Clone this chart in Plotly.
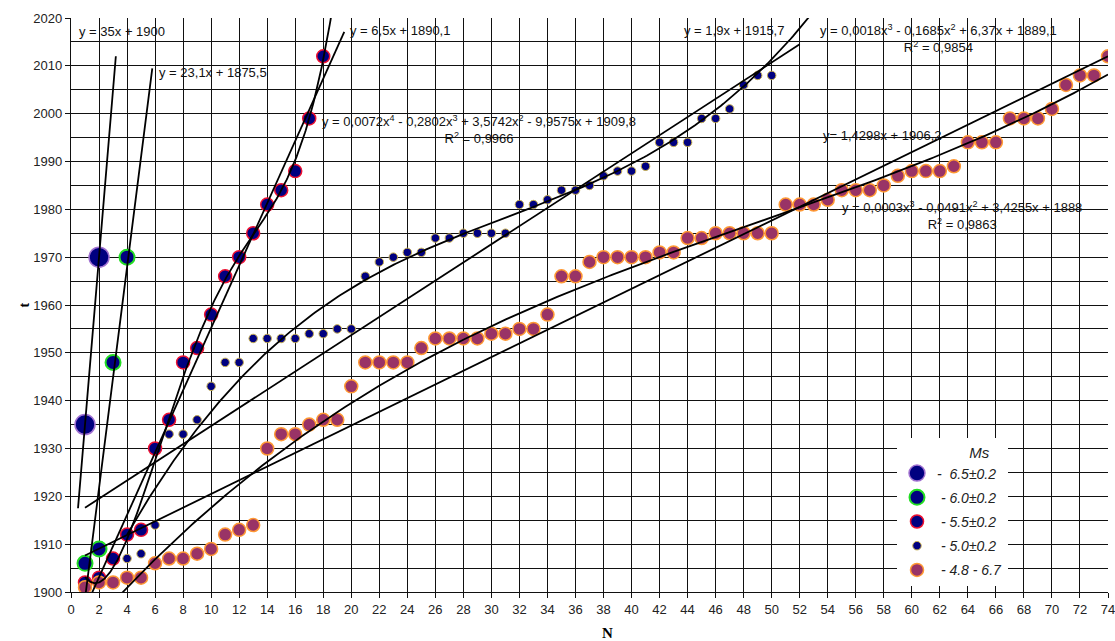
import numpy as np
import plotly.graph_objects as go

# ---------------- data ----------------
N_65 = [1, 2]
T_65 = [1935, 1970]

N_60 = [1, 2, 3, 4]
T_60 = [1906, 1909, 1948, 1970]

N_55 = [1, 2, 3, 4, 5, 6, 7, 8, 9, 10, 11, 12, 13, 14, 15, 16, 17, 18]
T_55 = [1902, 1903, 1907, 1912, 1913, 1930, 1936, 1948, 1951, 1958,
        1966, 1970, 1975, 1981, 1984, 1988, 1999, 2012]

N_50 = [4, 5, 6, 7, 8, 9, 10, 11, 12, 13, 14, 15, 16, 17, 18, 19, 20, 21, 22, 23,
        24, 25, 26, 27, 28, 29, 30, 31, 32, 33, 34, 35, 36, 37, 38, 39, 40, 41, 42,
        43, 44, 45, 46, 47, 48, 49, 50]
T_50 = [1907, 1908, 1914, 1933, 1933, 1936, 1943, 1948, 1948, 1953, 1953, 1953,
        1953, 1954, 1954, 1955, 1955, 1966, 1969, 1970, 1971, 1971, 1974, 1974,
        1975, 1975, 1975, 1975, 1981, 1981, 1982, 1984, 1984, 1985, 1987, 1988,
        1988, 1989, 1994, 1994, 1994, 1999, 1999, 2001, 2006, 2008, 2008]

N_48 = [1, 2, 3, 4, 5, 6, 7, 8, 9, 10, 11, 12, 13, 14, 15, 16, 17, 18, 19, 20,
        21, 22, 23, 24, 25, 26, 27, 28, 29, 30, 31, 32, 33, 34, 35, 36, 37, 38, 39,
        40, 41, 42, 43, 44, 45, 46, 47, 48, 49, 50, 51, 52, 53, 54, 55, 56, 57, 58,
        59, 60, 61, 62, 63, 64, 65, 66, 67, 68, 69, 70, 71, 72, 73, 74]
T_48 = [1901, 1902, 1902, 1903, 1903, 1906, 1907, 1907, 1908, 1909, 1912, 1913,
        1914, 1930, 1933, 1933, 1935, 1936, 1936, 1943, 1948, 1948, 1948, 1948,
        1951, 1953, 1953, 1953, 1953, 1954, 1954, 1955, 1955, 1958, 1966, 1966,
        1969, 1970, 1970, 1970, 1970, 1971, 1971, 1974, 1974, 1975, 1975, 1975,
        1975, 1975, 1981, 1981, 1981, 1982, 1984, 1984, 1984, 1985, 1987, 1988,
        1988, 1988, 1989, 1994, 1994, 1994, 1999, 1999, 1999, 2001, 2006, 2008,
        2008, 2012]

# trendline coefficients printed on the chart for the Ms 5.0 series (highest power first)
COEF_50_LIN = [1.9, 1915.7]
COEF_50_POLY3 = [0.0018, -0.1685, 6.37, 1889.1]

LEGEND_NAMES = ["-  6.5\u00b10.2", " - 6.0\u00b10.2", " - 5.5\u00b10.2", " - 5.0\u00b10.2", " - 4.8 - 6.7"]

EQ_LABELS = [
    "y = 35x + 1900",
    "y = 23,1x + 1875,5",
    "y = 6,5x + 1890,1",
    "y = 0,0072x<sup>4</sup> - 0,2802x<sup>3</sup> + 3,5742x<sup>2</sup> - 9,9575x + 1909,8<br>R<sup>2</sup> = 0,9966",
    "y = 1,9x + 1915,7",
    "y = 0,0018x<sup>3</sup> - 0,1685x<sup>2</sup> + 6,37x + 1889,1<br>R<sup>2</sup> = 0,9854",
    "y= 1,4298x + 1906,2",
    "y = 0,0003x<sup>3</sup> - 0,0491x<sup>2</sup> + 3,4255x + 1888<br>R<sup>2</sup> = 0,9863",
]

# ---------------- figure ----------------
fig = go.Figure()

series = [
    (N_65, T_65, 20, "#000080", "#A070D0", 1.5),
    (N_60, T_60, 15, "#000080", "#22DD22", 2),
    (N_55, T_55, 13, "#000080", "#EE1030", 1.5),
    (N_50, T_50, 8.5, "#000080", "#C8B050", 1),
    (N_48, T_48, 13, "#993366", "#FF9933", 1.5),
]
for k, ((xs, ys, sz, fc, lc, lw), name) in enumerate(zip(series, LEGEND_NAMES)):
    fig.add_trace(go.Scatter(x=xs, y=ys, mode="markers", name=name, legendgroup=f"g{k}",
                             marker=dict(size=sz, color=fc, line=dict(color=lc, width=lw))))

# trendlines: (coefficients, x-from, x-to)
trends = [
    (np.polyfit(N_65, T_65, 1), 0.5, 3.2),
    (np.polyfit(N_60, T_60, 1), 1.0, 5.8),
    (np.polyfit(N_55, T_55, 1), 1.0, 19.5),
    (np.polyfit(N_55, T_55, 4), 1.0, 18.7),
    (np.array(COEF_50_LIN), 1.0, 52.0),
    (np.array(COEF_50_POLY3), 4.0, 53.5),
    (np.polyfit(N_48, T_48, 1), 1.0, 74.0),
    (np.polyfit(N_48, T_48, 3), 1.0, 74.0),
]
for c, a, b in trends:
    xx = np.linspace(a, b, 300)
    fig.add_trace(go.Scatter(x=xx, y=np.polyval(c, xx), mode="lines", showlegend=False,
                             hoverinfo="skip", line=dict(color="black", width=1.8)))

# equation labels: (text index, x, y, xanchor)
eq_pos = [
    (0, 0.43, 2017.1, "left"),
    (1, 6.14, 2008.7, "left"),
    (2, 19.8, 2017.3, "left"),
    (3, 29.1, 1996.6, "center"),
    (4, 43.6, 2017.3, "left"),
    (5, 61.9, 2015.8, "center"),
    (6, 53.5, 1995.5, "left"),
    (7, 63.6, 1978.8, "center"),
]
for i, x, y, xa in eq_pos:
    fig.add_annotation(x=x, y=y, xref="x", yref="y", text=EQ_LABELS[i], showarrow=False,
                       xanchor=xa, yanchor="middle", align="center",
                       font=dict(family="Liberation Sans, Arial", size=13, color="#111"))

fig.add_annotation(x=(607 - 71) / 1037, y=-(633 - 592) / 574, xref="paper", yref="paper",
                   text="<b>N</b>", showarrow=False, yanchor="middle",
                   font=dict(family="Liberation Serif, Times New Roman", size=15, color="black"))
fig.add_annotation(x=(14 - 71) / 1037, y=0.5, xref="paper", yref="paper",
                   text="<b>t</b>", showarrow=False, textangle=-90,
                   font=dict(family="Liberation Serif, Times New Roman", size=14, color="black"))

fig.update_layout(
    width=1115, height=641,
    margin=dict(l=71, r=7, t=18, b=49, autoexpand=False),
    paper_bgcolor="white", plot_bgcolor="white",
    font=dict(family="Liberation Sans, Arial", size=13, color="#222"),
    showlegend=True,
    legend=dict(
        x=(897 - 71) / 1037, y=(592 - 438) / 574, xanchor="left", yanchor="top",
        bgcolor="white", borderwidth=0, itemsizing="trace", tracegroupgap=3,
        title=dict(text="Ms&nbsp;&nbsp;&nbsp;&nbsp;", side="top right",
                   font=dict(family="Liberation Sans, Arial", size=15, style="italic", color="#222")),
        font=dict(family="Liberation Sans, Arial", size=14, style="italic", color="#222"),
    ),
    xaxis=dict(range=[0, 74], dtick=2, tick0=0, showgrid=True, gridcolor="#111", gridwidth=1.3,
               showline=True, linecolor="#111", linewidth=1.3, ticks="outside", ticklen=5,
               tickcolor="#111", zeroline=False, ticklabeloverflow="allow", automargin=False),
    yaxis=dict(range=[1900, 2020], dtick=10, tick0=1900, showgrid=True, gridcolor="#111", gridwidth=1.3,
               showline=True, linecolor="#111", linewidth=1.3, ticks="outside", ticklen=5,
               tickcolor="#111", zeroline=False, automargin=False,
               minor=dict(dtick=5, showgrid=True, gridcolor="#111", gridwidth=1.3)),
)

fig.write_html("out.html")
